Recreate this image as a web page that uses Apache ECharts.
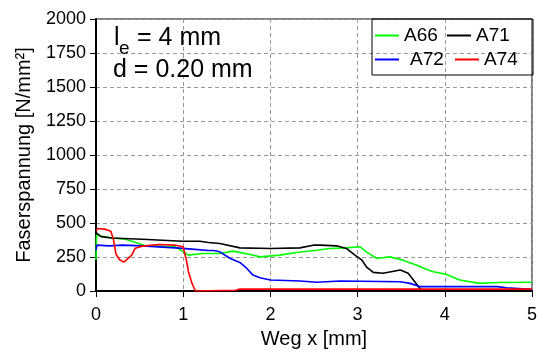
<!DOCTYPE html>
<html>
<head>
<meta charset="utf-8">
<script src="https://cdn.jsdelivr.net/npm/echarts@6/dist/echarts.min.js"></script>
<style>html,body{margin:0;padding:0;background:#fff}#c{width:540px;height:352px}</style>
</head>
<body>
<div id="c"></div>
<script>
var seriesNames = ['A66', 'A71', 'A72', 'A74'];
var xTicks = [0, 1, 2, 3, 4, 5];
var yTicks = [0, 250, 500, 750, 1000, 1250, 1500, 1750, 2000];

var dataA66 = [[0,230],[0.005,410],[0.18,390],[0.34,381],[0.49,349],[0.57,332],[0.91,325],[1.0,288],[1.06,264],[1.22,276],[1.42,276],[1.57,293],[1.77,269],[1.88,251],[2.11,264],[2.30,283],[2.53,300],[2.68,313],[2.87,317],[3.03,325],[3.10,288],[3.22,239],[3.37,251],[3.52,227],[3.68,190],[3.81,154],[3.87,142],[4.02,122],[4.17,81],[4.40,56],[4.6,62],[5.0,64]];
var dataA71 = [[0,430],[0.06,400],[0.18,390],[0.53,381],[0.99,366],[1.19,366],[1.29,357],[1.42,349],[1.65,317],[2.0,313],[2.34,317],[2.49,337],[2.57,337],[2.76,332],[2.87,313],[2.97,264],[3.05,227],[3.10,178],[3.18,137],[3.29,130],[3.49,154],[3.58,130],[3.64,81],[3.70,32],[3.73,7]];
var dataA72 = [[0,300],[0.01,337],[0.15,332],[0.30,337],[0.53,332],[0.91,317],[1.10,308],[1.29,298],[1.35,298],[1.42,288],[1.54,239],[1.65,210],[1.73,166],[1.80,117],[1.88,98],[2.0,81],[2.34,73],[2.53,64],[2.80,73],[3.49,68],[3.60,56],[3.72,32],[4.60,32],[4.71,24],[4.94,15],[5.0,10]];
var dataA74 = [[0,440],[0.02,460],[0.10,455],[0.17,440],[0.20,380],[0.23,270],[0.27,230],[0.32,212],[0.41,264],[0.45,315],[0.53,330],[0.72,342],[0.91,337],[1.0,325],[1.04,215],[1.06,142],[1.10,58],[1.14,0],[1.6,5],[1.65,14],[5.0,14]];

var allData = [dataA66, dataA71, dataA72, dataA74];
var colors = ['#00ff00', '#000000', '#0000ff', '#ff0000'];
var FONT = '"Liberation Sans", Arial, sans-serif';

var chart = echarts.init(document.getElementById('c'), null, {renderer: 'canvas'});

var legendPos = [
  {left: 375, top: 26, pad: 0},
  {left: 447, top: 26, pad: 0},
  {left: 375, top: 50, pad: 6},
  {left: 455, top: 50, pad: 0}
];

var option = {
  animation: false,
  backgroundColor: '#fff',
  grid: {left: 96, right: 8, top: 19, bottom: 61, show: true, borderColor: '#000', borderWidth: 1, outerBoundsMode: 'none'},
  xAxis: {
    type: 'value', min: xTicks[0], max: xTicks[xTicks.length - 1], interval: 1,
    name: 'Weg x [mm]', nameLocation: 'middle', nameGap: 38,
    nameTextStyle: {fontFamily: FONT, fontSize: 20, color: '#000'},
    axisLine: {onZero: false, lineStyle: {color: '#000', width: 2}},
    axisTick: {length: 6, lineStyle: {color: '#000'}},
    axisLabel: {fontFamily: FONT, fontSize: 18, color: '#000', margin: 15, formatter: function (v) { return String(v); }},
    splitLine: {show: true, lineStyle: {color: '#999', type: [4, 3], width: 1}}
  },
  yAxis: {
    type: 'value', min: yTicks[0], max: yTicks[yTicks.length - 1], interval: 250,
    name: 'Faserspannung [N/mm²]', nameLocation: 'middle', nameGap: 62,
    nameTextStyle: {fontFamily: FONT, fontSize: 20, color: '#000'},
    axisLine: {onZero: false, lineStyle: {color: '#000', width: 2}},
    axisTick: {length: 6, lineStyle: {color: '#000'}},
    axisLabel: {fontFamily: FONT, fontSize: 18, color: '#000', margin: 10, formatter: function (v) { return String(v); }},
    splitLine: {show: true, lineStyle: {color: '#999', type: [4, 3], width: 1}}
  },
  legend: seriesNames.map(function (n, i) {
    return {
      data: [n], left: legendPos[i].left, top: legendPos[i].top, padding: 0,
      icon: 'rect', itemWidth: 24, itemHeight: 2, itemGap: 5,
      textStyle: {fontFamily: FONT, fontSize: 19, color: '#000', padding: [0, 0, 0, legendPos[i].pad]},
      selectedMode: false
    };
  }),
  graphic: [
    {type: 'rect', shape: {x: 372, y: 19, width: 161, height: 56}, style: {fill: 'none', stroke: '#000', lineWidth: 1}, z: 10},
    {type: 'text', x: 114, y: 38, style: {text: 'l', font: '25px ' + FONT, fill: '#000', textVerticalAlign: 'middle'}, z: 10},
    {type: 'text', x: 119, y: 49, style: {text: 'e', font: '19px ' + FONT, fill: '#000', textVerticalAlign: 'middle'}, z: 10},
    {type: 'text', x: 137, y: 38, style: {text: '= 4 mm', font: '25px ' + FONT, fill: '#000', textVerticalAlign: 'middle'}, z: 10},
    {type: 'text', x: 113, y: 70, style: {text: 'd = 0.20 mm', font: '25px ' + FONT, fill: '#000', textVerticalAlign: 'middle'}, z: 10}
  ],
  series: seriesNames.map(function (n, i) {
    return {
      name: n, type: 'line', data: allData[i], showSymbol: false, symbol: 'none',
      lineStyle: {color: colors[i], width: 1.6}, itemStyle: {color: colors[i]},
      clip: true
    };
  })
};
chart.setOption(option);
</script>
</body>
</html>
